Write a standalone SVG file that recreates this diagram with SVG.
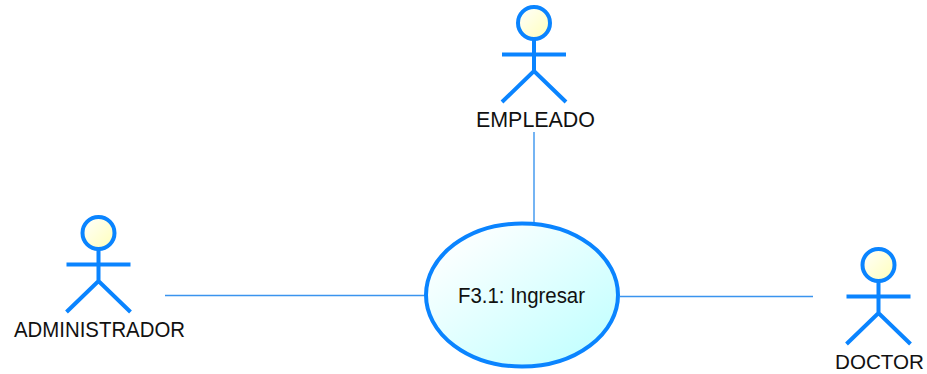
<svg xmlns="http://www.w3.org/2000/svg" width="927" height="374" viewBox="0 0 927 374">
<style>
.a{fill:none;stroke:#0a84ff;stroke-width:4;stroke-linecap:butt}
.h{fill:url(#hg);stroke:#0a84ff;stroke-width:4}
.c{fill:none;stroke:#3a94ee;stroke-width:1.4}
text{font-family:"Liberation Sans",Arial,sans-serif;font-size:22px;fill:#111}
</style>
<defs>
<linearGradient id="hg" x1="0" y1="0" x2="1" y2="1"><stop offset="0" stop-color="#ffffff"/><stop offset="1" stop-color="#ffffb8"/></linearGradient>
<linearGradient id="ug" x1="0.1" y1="0.1" x2="0.85" y2="0.9"><stop offset="0" stop-color="#ffffff"/><stop offset="1" stop-color="#c4ffff"/></linearGradient>
</defs>
<rect width="927" height="374" fill="#fff"/>
<g id="connectors">
<line class="c" x1="534" y1="132" x2="534" y2="223"/>
<line class="c" x1="165" y1="295.500" x2="425" y2="295.500"/>
<line class="c" x1="620" y1="296.500" x2="813" y2="296.500"/>
</g>
<g id="empleado">
<circle class="h" cx="534" cy="23" r="16"/>
<path class="a" d="M534 39V71M502 54.500H566M502 102L534 71L566 102"/>
<text x="476" y="127" textLength="119" lengthAdjust="spacingAndGlyphs">EMPLEADO</text>
</g>
<g id="administrador">
<circle class="h" cx="98.500" cy="233" r="16"/>
<path class="a" d="M98.500 249V281M66.500 264.500H130.500M66.500 312L98.500 281L130.500 312"/>
<text x="14" y="337" textLength="171" lengthAdjust="spacingAndGlyphs">ADMINISTRADOR</text>
</g>
<g id="doctor">
<circle class="h" cx="878.500" cy="265" r="16"/>
<path class="a" d="M878.500 281V313M846.500 296.500H910.500M846.500 344L878.500 313L910.500 344"/>
<text x="835" y="369" textLength="89" lengthAdjust="spacingAndGlyphs" style="font-size:21px">DOCTOR</text>
</g>
<g id="usecase">
<ellipse cx="522" cy="295" rx="96" ry="71.500" fill="url(#ug)" stroke="#0a84ff" stroke-width="4"/>
<text x="458" y="303" textLength="127" lengthAdjust="spacingAndGlyphs" style="font-size:21.500px">F3.1: Ingresar</text>
</g>
</svg>
